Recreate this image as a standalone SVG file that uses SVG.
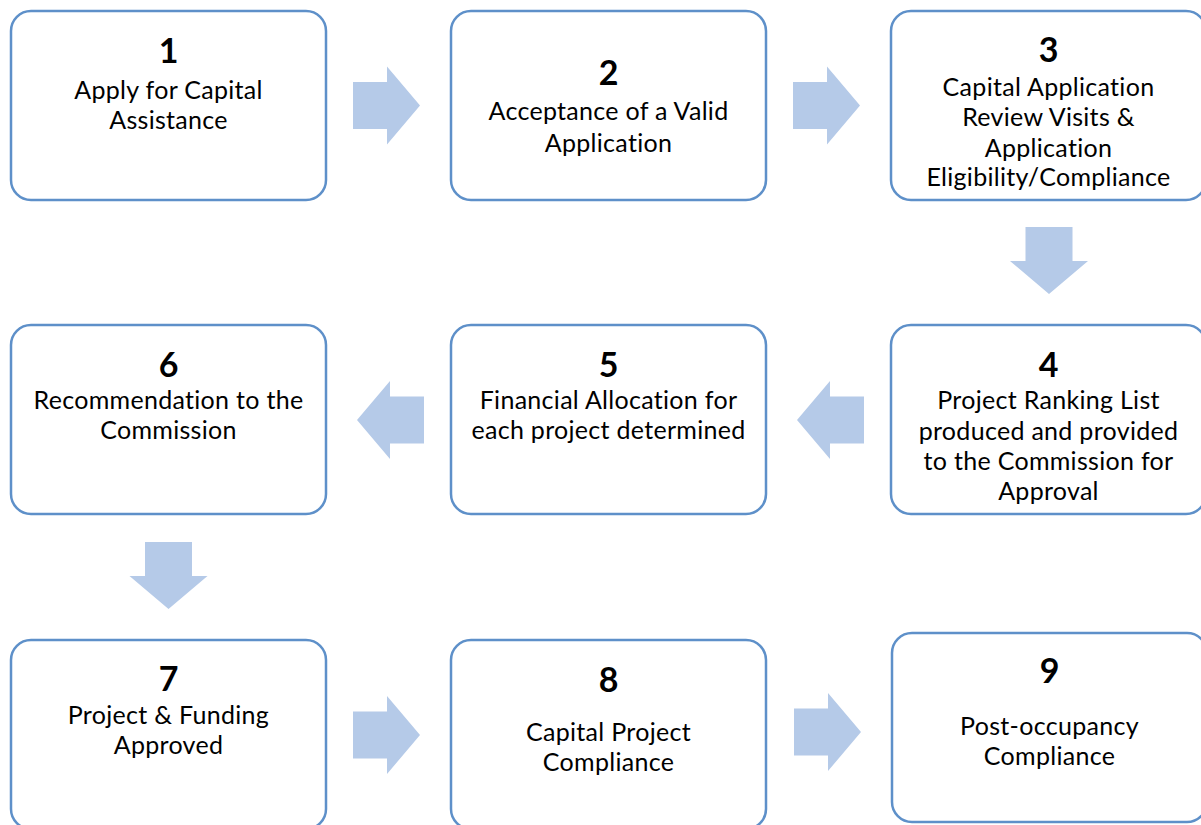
<svg xmlns="http://www.w3.org/2000/svg" width="1201" height="825" viewBox="0 0 1201 825">
  <style>
    .box { fill: #ffffff; stroke: #5e90c9; stroke-width: 2.5; }
    .arrow { fill: #b5cae8; stroke: none; }
    .num { font-family: Lato, "Open Sans", sans-serif; font-weight: bold; font-size: 34px; fill: #000; text-anchor: middle; }
    .lbl { font-family: Lato, "Open Sans", sans-serif; font-size: 25px; letter-spacing: 0.3px; fill: #000; text-anchor: middle; }
  </style>
  <defs>
    <!-- block arrow pointing right, origin at the tail's vertical centre -->
    <path id="blockRight" d="M0,-23.5 H34 V-39 L67,0 L34,39 V23.5 H0 Z"/>
  </defs>
  <rect width="1201" height="825" fill="#ffffff"/>

  <g id="connectors">
    <use href="#blockRight" class="arrow" transform="translate(353,105.5)"/>
    <use href="#blockRight" class="arrow" transform="translate(793,105.5)"/>
    <use href="#blockRight" class="arrow" transform="translate(1049,227) rotate(90)"/>
    <use href="#blockRight" class="arrow" transform="translate(864,420) rotate(180)"/>
    <use href="#blockRight" class="arrow" transform="translate(424,420) rotate(180)"/>
    <use href="#blockRight" class="arrow" transform="translate(168.5,542) rotate(90)"/>
    <use href="#blockRight" class="arrow" transform="translate(353,735)"/>
    <use href="#blockRight" class="arrow" transform="translate(794,732)"/>
  </g>

  <g id="node1">
    <rect class="box" x="11" y="11" width="315" height="189" rx="20"/>
    <text class="num" x="168.5" y="63">1</text>
    <text class="lbl" x="168.5" y="99">Apply for Capital</text>
    <text class="lbl" x="168.5" y="129">Assistance</text>
  </g>
  <g id="node2">
    <rect class="box" x="451" y="11" width="315" height="189" rx="20"/>
    <text class="num" x="608.5" y="85">2</text>
    <text class="lbl" x="608.5" y="120">Acceptance of a Valid</text>
    <text class="lbl" x="608.5" y="152">Application</text>
  </g>
  <g id="node3">
    <rect class="box" x="891" y="11" width="315" height="189" rx="20"/>
    <text class="num" x="1048.5" y="62">3</text>
    <text class="lbl" x="1048.5" y="96">Capital Application</text>
    <text class="lbl" x="1048.5" y="126">Review Visits &amp;</text>
    <text class="lbl" x="1048.5" y="157">Application</text>
    <text class="lbl" x="1048.5" y="186">Eligibility/Compliance</text>
  </g>
  <g id="node4">
    <rect class="box" x="891" y="325" width="315" height="189" rx="20"/>
    <text class="num" x="1048.5" y="377">4</text>
    <text class="lbl" x="1048.5" y="409">Project Ranking List</text>
    <text class="lbl" x="1048.5" y="440">produced and provided</text>
    <text class="lbl" x="1048.5" y="470">to the Commission for</text>
    <text class="lbl" x="1048.5" y="500">Approval</text>
  </g>
  <g id="node5">
    <rect class="box" x="451" y="325" width="315" height="189" rx="20"/>
    <text class="num" x="608.5" y="377">5</text>
    <text class="lbl" x="608.5" y="409">Financial Allocation for</text>
    <text class="lbl" x="608.5" y="439">each project determined</text>
  </g>
  <g id="node6">
    <rect class="box" x="11" y="325" width="315" height="189" rx="20"/>
    <text class="num" x="168.5" y="377">6</text>
    <text class="lbl" x="168.5" y="409">Recommendation to the</text>
    <text class="lbl" x="168.5" y="439">Commission</text>
  </g>
  <g id="node7">
    <rect class="box" x="11" y="640" width="315" height="189" rx="20"/>
    <text class="num" x="168.5" y="691">7</text>
    <text class="lbl" x="168.5" y="724">Project &amp; Funding</text>
    <text class="lbl" x="168.5" y="754">Approved</text>
  </g>
  <g id="node8">
    <rect class="box" x="451" y="640" width="315" height="189" rx="20"/>
    <text class="num" x="608.5" y="692">8</text>
    <text class="lbl" x="608.5" y="741">Capital Project</text>
    <text class="lbl" x="608.5" y="771">Compliance</text>
  </g>
  <g id="node9">
    <rect class="box" x="892" y="633" width="315" height="189" rx="20"/>
    <text class="num" x="1049.5" y="683">9</text>
    <text class="lbl" x="1049.5" y="735">Post-occupancy</text>
    <text class="lbl" x="1049.5" y="765">Compliance</text>
  </g>
</svg>
